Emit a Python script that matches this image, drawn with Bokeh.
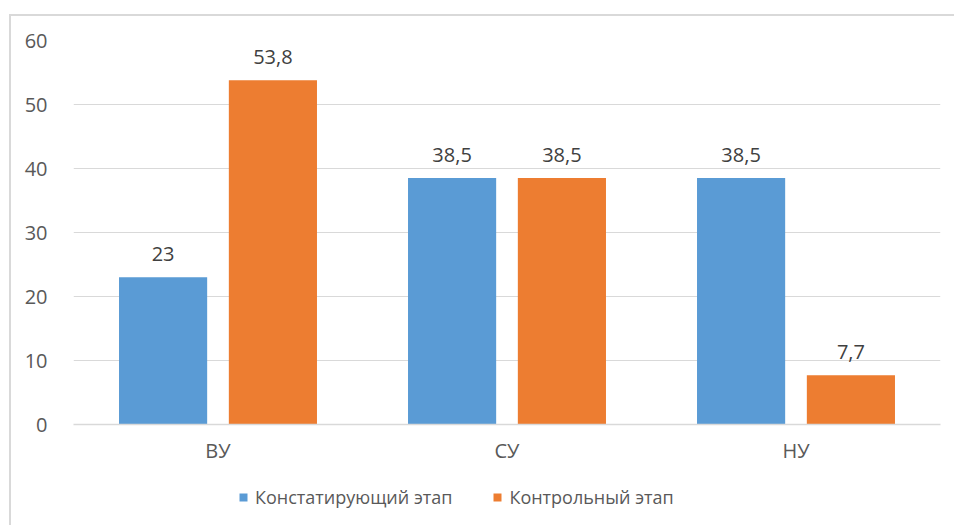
from bokeh.plotting import figure
from bokeh.layouts import column
from bokeh.models import ColumnDataSource, Range1d, SingleIntervalTicker, LabelSet, Legend, LegendItem
from bokeh.core.properties import value
from bokeh.transform import dodge
from bokeh.embed import file_html
from bokeh.resources import INLINE

categories = ["ВУ", "СУ", "НУ"]
series_names = ["Констатирующий этап", "Контрольный этап"]
stage1 = [23, 38.5, 38.5]
stage2 = [53.8, 38.5, 7.7]
labels1 = ["23", "38,5", "38,5"]
labels2 = ["53,8", "38,5", "7,7"]

FONT = "Open Sans"
BLUE = "#5A9BD5"
ORANGE = "#ED7D31"
BORDER = "2px solid #d9d9d9"

src = ColumnDataSource(dict(cat=categories, s1=stage1, s2=stage2, l1=labels1, l2=labels2))

p = figure(x_range=categories, y_range=Range1d(0, 60), width=945, height=454,
           output_backend="svg", toolbar_location=None,
           min_border_left=62, min_border_right=16, min_border_top=24, min_border_bottom=46,
           background_fill_color="white", border_fill_color="white")
p.outline_line_color = None
p.x_range.range_padding = 0
p.styles = {"border-top": BORDER, "border-left": BORDER}

p.vbar(x=dodge("cat", -0.19, range=p.x_range), top="s1", width=0.305, source=src,
       fill_color=BLUE, line_color=None)
p.vbar(x=dodge("cat", 0.19, range=p.x_range), top="s2", width=0.305, source=src,
       fill_color=ORANGE, line_color=None)

for col, lab, off in (("s1", "l1", -0.19), ("s2", "l2", 0.19)):
    ls = LabelSet(x=dodge("cat", off, range=p.x_range), y=col, text=lab, source=src,
                  text_align="center", text_baseline="bottom", y_offset=16,
                  text_font=value(FONT), text_font_size="20px", text_color="#404040")
    p.add_layout(ls)

p.yaxis.ticker = SingleIntervalTicker(interval=10)
p.ygrid.grid_line_color = "#d9d9d9"
p.ygrid.grid_line_width = 1
p.xgrid.grid_line_color = None
for ax in (p.xaxis, p.yaxis):
    ax.major_tick_line_color = None
    ax.minor_tick_line_color = None
    ax.major_label_text_font = FONT
    ax.major_label_text_font_size = "20px"
    ax.major_label_text_color = "#595959"
p.yaxis.axis_line_color = None
p.yaxis.major_label_standoff = 20
p.xaxis.axis_line_color = "#d9d9d9"
p.xaxis.axis_line_width = 1.5
p.xaxis.major_label_standoff = 6

# legend strip below the chart
leg = figure(width=945, height=57, output_backend="svg", toolbar_location=None,
             x_range=Range1d(0, 1), y_range=Range1d(0, 1),
             min_border=0, background_fill_color="white", border_fill_color="white")
leg.axis.visible = False
leg.grid.visible = False
leg.outline_line_color = None
leg.styles = {"border-left": BORDER}
# swatch-only renderers (NaN data, nothing drawn in the plot itself)
swatch = ColumnDataSource(dict(x=[float("nan")], top=[float("nan")]))
lr1 = leg.vbar(x="x", top="top", width=1, source=swatch, fill_color=BLUE, line_color=None)
lr2 = leg.vbar(x="x", top="top", width=1, source=swatch, fill_color=ORANGE, line_color=None)
legend = Legend(items=[LegendItem(label=series_names[0], renderers=[lr1]),
                       LegendItem(label=series_names[1], renderers=[lr2])],
                orientation="horizontal", location=(165, 16),
                glyph_width=10, glyph_height=10, spacing=40, label_standoff=7,
                label_text_font=FONT, label_text_font_size="18px", label_text_color="#595959",
                border_line_color=None, background_fill_alpha=0, margin=0, padding=4)
leg.add_layout(legend)

layout = column(p, leg, spacing=0, margin=(14, 0, 0, 9))
open("out.html", "w").write(file_html(layout, INLINE))
